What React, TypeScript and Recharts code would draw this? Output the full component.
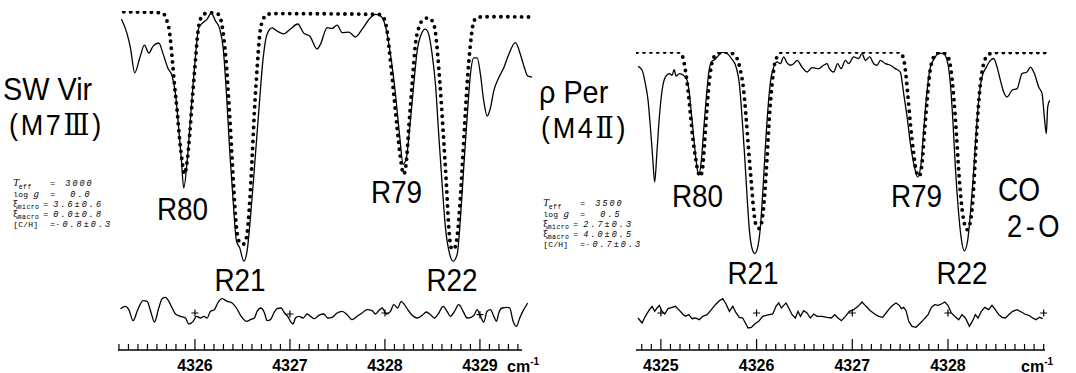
import React from "react";
import { ComposedChart, LineChart, Line, Scatter, XAxis, YAxis } from "recharts";

type Pt = [number, number];

// SW Vir (M7 III): wavenumber (cm-1), relative intensity (continuum = 100)
const swVirObserved: Pt[] = [
  [4325.226, 96.9], [4325.286, 91.2], [4325.321, 85.8], [4325.366, 76.2], [4325.419, 81.9],
  [4325.468, 86.9], [4325.514, 83.8], [4325.56, 86.5], [4325.619, 87.7], [4325.665, 83.5],
  [4325.714, 78.1], [4325.76, 75.0], [4325.795, 68.1], [4325.829, 55.0], [4325.858, 42.3],
  [4325.882, 31.9], [4325.918, 42.3], [4325.953, 58.8], [4325.995, 78.1], [4326.04, 93.5],
  [4326.093, 95.8], [4326.128, 96.9], [4326.171, 99.2], [4326.216, 96.2], [4326.261, 93.1],
  [4326.297, 85.8], [4326.332, 68.1], [4326.366, 46.2], [4326.402, 26.9], [4326.437, 11.5],
  [4326.472, 8.8], [4326.514, 3.8], [4326.549, 7.7], [4326.584, 20.4], [4326.626, 39.6],
  [4326.672, 61.5], [4326.718, 81.9], [4326.76, 91.2], [4326.813, 93.5], [4326.865, 92.3],
  [4326.935, 91.2], [4327.005, 93.1], [4327.082, 95.0], [4327.145, 91.5], [4327.208, 90.4],
  [4327.286, 85.4], [4327.321, 87.2], [4327.392, 93.6], [4327.444, 93.3], [4327.497, 94.6],
  [4327.549, 91.7], [4327.619, 91.9], [4327.689, 90.0], [4327.76, 93.0], [4327.847, 97.4],
  [4327.9, 98.7], [4327.953, 98.1], [4328.005, 94.2], [4328.058, 83.3], [4328.111, 68.0],
  [4328.153, 52.6], [4328.192, 41.0], [4328.226, 43.6], [4328.261, 55.1], [4328.303, 71.8],
  [4328.339, 84.6], [4328.381, 91.0], [4328.426, 93.0], [4328.461, 91.0], [4328.497, 83.3],
  [4328.532, 71.8], [4328.566, 52.6], [4328.602, 33.3], [4328.637, 16.7], [4328.682, 6.4],
  [4328.718, 3.8], [4328.76, 6.4], [4328.795, 20.5], [4328.829, 39.7], [4328.865, 59.0],
  [4328.9, 75.7], [4328.935, 82.0], [4328.971, 82.0], [4329.005, 75.7], [4329.04, 65.4],
  [4329.076, 59.6], [4329.111, 62.8], [4329.145, 69.2], [4329.198, 74.3], [4329.251, 78.2],
  [4329.303, 83.3], [4329.374, 87.8], [4329.426, 83.3], [4329.468, 78.2], [4329.503, 75.0],
  [4329.549, 74.6],
];

const swVirSynthetic: Pt[] = [
  [4325.251, 99.7], [4325.655, 99.3], [4325.7, 96.8], [4325.735, 91.2], [4325.76, 81.9],
  [4325.784, 71.9], [4325.813, 61.5], [4325.84, 50.0], [4325.865, 42.3], [4325.889, 37.3],
  [4325.918, 42.3], [4325.945, 52.7], [4325.971, 65.4], [4326.005, 80.8], [4326.029, 91.2],
  [4326.058, 96.9], [4326.093, 98.8], [4326.163, 99.3], [4326.234, 99.0], [4326.276, 96.2],
  [4326.303, 89.7], [4326.328, 80.8], [4326.356, 65.4], [4326.381, 50.0], [4326.408, 32.0],
  [4326.437, 16.7], [4326.472, 10.9], [4326.507, 10.3], [4326.542, 12.8], [4326.577, 26.9],
  [4326.602, 43.6], [4326.626, 61.5], [4326.655, 78.2], [4326.682, 91.0], [4326.718, 96.8],
  [4326.76, 98.7], [4326.829, 99.0], [4327.935, 98.7], [4327.987, 97.4], [4328.023, 92.3],
  [4328.058, 80.8], [4328.093, 68.0], [4328.128, 55.1], [4328.163, 43.6], [4328.198, 37.2],
  [4328.226, 42.3], [4328.251, 55.1], [4328.286, 71.8], [4328.321, 87.2], [4328.356, 93.6],
  [4328.408, 96.8], [4328.461, 97.4], [4328.514, 94.9], [4328.542, 88.5], [4328.566, 78.2],
  [4328.592, 65.4], [4328.619, 50.0], [4328.647, 33.3], [4328.672, 16.7], [4328.697, 9.0],
  [4328.724, 8.3], [4328.753, 11.5], [4328.787, 24.3], [4328.813, 39.7], [4328.837, 55.1],
  [4328.865, 71.8], [4328.9, 87.2], [4328.928, 94.9], [4328.963, 97.4], [4329.04, 97.8],
  [4329.549, 97.7],
];

const swVirResidual: Pt[] = [
  [4325.216, 1.3], [4325.268, 2.0], [4325.304, 1.0], [4325.349, -2.3], [4325.398, 1.0],
  [4325.454, 3.7], [4325.496, 3.5], [4325.539, 0], [4325.574, -2.7], [4325.619, 1.5],
  [4325.654, 4.3], [4325.689, 4.7], [4325.725, 3.5], [4325.76, 1.5], [4325.795, -0.3],
  [4325.847, -1.0], [4325.9, -1.5], [4325.935, -3.3], [4325.981, -2.5], [4326.016, -1.0],
  [4326.058, -1.5], [4326.093, -1.0], [4326.128, -1.5], [4326.163, 0.5], [4326.205, 1.0],
  [4326.24, 3.0], [4326.286, 4.3], [4326.339, 3.5], [4326.391, 3.0], [4326.437, 1.5],
  [4326.486, -1.0], [4326.542, -2.5], [4326.584, -2.0], [4326.626, -1.5], [4326.654, 0.5],
  [4326.696, 1.5], [4326.732, 0], [4326.76, -2.3], [4326.795, -2.0], [4326.83, 0],
  [4326.865, 1.3], [4326.907, 1.5], [4326.942, 0], [4326.977, -1.0], [4327.005, -2.5],
  [4327.033, -3.3], [4327.058, -1.5], [4327.093, -1.0], [4327.139, -1.5], [4327.181, -0.3],
  [4327.216, -1.0], [4327.258, -1.7], [4327.304, -0.7], [4327.356, -0.3], [4327.398, -1.5],
  [4327.444, -1.3], [4327.496, 0], [4327.549, 0.5], [4327.602, -0.5], [4327.654, -2.0],
  [4327.707, -1.0], [4327.76, 0], [4327.812, 1.0], [4327.865, 0.7], [4327.9, -0.3],
  [4327.935, 0.7], [4327.97, 1.5], [4328.016, -0.3], [4328.058, 0.5], [4328.093, 2.5],
  [4328.135, 1.5], [4328.17, 3.5], [4328.205, 2.5], [4328.24, 1.0], [4328.286, -0.7],
  [4328.339, -1.5], [4328.391, -0.7], [4328.437, 0.3], [4328.479, -0.5], [4328.521, -1.5],
  [4328.567, 0], [4328.612, 2.0], [4328.654, 0.5], [4328.689, -1.0], [4328.732, 0.5],
  [4328.777, 2.5], [4328.823, 0.5], [4328.865, -1.5], [4328.907, -1.3], [4328.942, -0.5],
  [4328.97, 1.0], [4329.005, -1.0], [4329.04, -2.7], [4329.075, 0.5], [4329.111, 1.0],
  [4329.146, -1.0], [4329.174, -2.5], [4329.198, 0], [4329.233, 1.5], [4329.286, 1.7],
  [4329.314, 1.5], [4329.349, -2.5], [4329.384, -4.0], [4329.419, -1.5], [4329.461, 1.0],
  [4329.503, 3.0],
];

const swVirMarks: Pt[] = [[4326, 0], [4327, -0.3], [4328, 0], [4329, -0.5]];
const swVirTicks = [4326, 4327, 4328, 4329];
const swVirParams = ["3000", "0.0", "3.6±0.6", "0.0±0.8", "-0.8±0.3"];

// rho Per (M4 II)
const rhoPerObserved: Pt[] = [
  [4324.762, 94.5], [4324.804, 93.0], [4324.838, 87.8], [4324.866, 81.4], [4324.89, 71.2],
  [4324.914, 59.6], [4324.935, 50.0], [4324.96, 62.2], [4324.984, 75.0], [4325.013, 85.3],
  [4325.047, 90.4], [4325.089, 91.7], [4325.117, 91.0], [4325.138, 93.2], [4325.159, 90.7],
  [4325.193, 91.7], [4325.238, 91.0], [4325.274, 89.1], [4325.298, 84.0], [4325.319, 76.3],
  [4325.343, 67.3], [4325.368, 58.3], [4325.395, 52.6], [4325.423, 58.3], [4325.447, 69.9],
  [4325.472, 81.4], [4325.499, 91.7], [4325.528, 96.2], [4325.562, 97.1], [4325.604, 98.7],
  [4325.646, 100.0], [4325.692, 99.4], [4325.737, 97.5], [4325.786, 94.2], [4325.82, 87.8],
  [4325.848, 75.0], [4325.876, 59.6], [4325.901, 44.2], [4325.925, 31.4], [4325.953, 24.4],
  [4325.98, 22.5], [4326.008, 24.4], [4326.04, 32.7], [4326.068, 48.1], [4326.092, 63.5],
  [4326.12, 78.8], [4326.147, 89.1], [4326.179, 94.2], [4326.214, 96.2], [4326.249, 95.5],
  [4326.283, 98.1], [4326.319, 95.8], [4326.353, 94.9], [4326.388, 95.5], [4326.423, 96.8],
  [4326.475, 94.2], [4326.527, 92.3], [4326.58, 94.0], [4326.649, 93.6], [4326.701, 94.9],
  [4326.737, 95.5], [4326.761, 93.6], [4326.806, 92.3], [4326.847, 95.5], [4326.883, 93.6],
  [4326.928, 96.8], [4326.962, 95.5], [4327.015, 98.1], [4327.067, 97.5], [4327.102, 99.4],
  [4327.137, 96.8], [4327.182, 98.1], [4327.224, 95.5], [4327.259, 94.9], [4327.294, 96.8],
  [4327.346, 95.5], [4327.398, 94.9], [4327.45, 93.6], [4327.502, 92.3], [4327.537, 84.0],
  [4327.573, 75.0], [4327.607, 64.8], [4327.642, 57.1], [4327.683, 51.9], [4327.719, 57.1],
  [4327.746, 69.9], [4327.782, 85.3], [4327.816, 94.2], [4327.858, 97.5], [4327.903, 99.6],
  [4327.955, 99.4], [4327.991, 96.8], [4328.025, 87.8], [4328.053, 72.5], [4328.077, 55.8],
  [4328.106, 40.4], [4328.137, 28.8], [4328.171, 23.5], [4328.206, 27.6], [4328.234, 37.8],
  [4328.262, 50.7], [4328.289, 66.0], [4328.321, 81.4], [4328.356, 90.4], [4328.401, 94.2],
  [4328.443, 96.8], [4328.478, 97.5], [4328.513, 94.2], [4328.548, 89.1], [4328.582, 84.6],
  [4328.618, 82.7], [4328.67, 85.3], [4328.722, 85.9], [4328.774, 91.7], [4328.827, 92.3],
  [4328.861, 94.2], [4328.903, 91.7], [4328.948, 86.5], [4328.983, 84.0], [4329.007, 75.0],
  [4329.028, 68.6], [4329.042, 78.8], [4329.063, 81.4],
];

const rhoPerSynthetic: Pt[] = [
  [4324.751, 100], [4325.186, 100], [4325.228, 98.1], [4325.256, 93.0], [4325.284, 85.3],
  [4325.308, 76.3], [4325.332, 67.3], [4325.361, 59.6], [4325.389, 53.8], [4325.413, 52.2],
  [4325.437, 55.8], [4325.458, 66.0], [4325.483, 78.8], [4325.507, 89.1], [4325.541, 96.8],
  [4325.587, 99.4], [4325.656, 100], [4325.737, 99.6], [4325.796, 97.5], [4325.831, 93.0],
  [4325.865, 85.3], [4325.89, 75.0], [4325.917, 62.2], [4325.946, 49.4], [4325.97, 39.1],
  [4325.995, 33.3], [4326.029, 32.1], [4326.057, 35.3], [4326.085, 45.5], [4326.11, 59.6],
  [4326.134, 75.0], [4326.162, 87.8], [4326.189, 95.5], [4326.225, 98.7], [4326.266, 100],
  [4327.485, 100], [4327.531, 98.1], [4327.555, 93.0], [4327.579, 84.0], [4327.607, 72.5],
  [4327.642, 60.9], [4327.67, 53.8], [4327.698, 52.2], [4327.729, 57.1], [4327.753, 68.6],
  [4327.782, 81.4], [4327.809, 91.7], [4327.844, 97.5], [4327.892, 99.6], [4327.955, 99.6],
  [4328.007, 97.5], [4328.032, 93.0], [4328.06, 82.7], [4328.088, 68.6], [4328.112, 54.5],
  [4328.137, 43.0], [4328.164, 35.3], [4328.2, 31.7], [4328.234, 34.6], [4328.262, 44.2],
  [4328.286, 59.6], [4328.31, 75.0], [4328.339, 87.8], [4328.373, 95.5], [4328.415, 98.7],
  [4328.478, 99.8], [4329.036, 99.8],
];

const rhoPerResidual: Pt[] = [
  [4324.761, -1.5], [4324.803, -3.0], [4324.838, -1.0], [4324.88, 1.0], [4324.908, 2.0],
  [4324.936, 0.5], [4324.96, 1.5], [4324.984, 2.3], [4325.012, 0.5], [4325.04, -0.3],
  [4325.075, 1.3], [4325.117, 1.7], [4325.152, 2.0], [4325.186, 1.0], [4325.228, -0.3],
  [4325.256, -1.0], [4325.291, -0.5], [4325.326, -1.7], [4325.361, -1.5], [4325.402, -2.0],
  [4325.437, -1.0], [4325.482, -0.5], [4325.528, 1.0], [4325.569, 2.5], [4325.611, 3.7],
  [4325.646, 4.3], [4325.681, 2.7], [4325.716, 0.5], [4325.751, 2.0], [4325.786, 0],
  [4325.82, -1.3], [4325.855, -1.5], [4325.883, -3.0], [4325.911, -4.5], [4325.946, -4.3],
  [4325.98, -3.3], [4326.022, -2.5], [4326.064, -1.0], [4326.099, -0.7], [4326.134, -0.5],
  [4326.169, -0.3], [4326.203, 2.0], [4326.231, 3.0], [4326.259, 1.5], [4326.284, 2.3],
  [4326.308, 3.0], [4326.336, 1.5], [4326.371, -0.5], [4326.405, -1.5], [4326.433, 0.5],
  [4326.458, -1.0], [4326.492, 0.7], [4326.527, 0], [4326.562, -1.5], [4326.597, -0.3],
  [4326.632, -1.0], [4326.684, -1.0], [4326.736, -1.3], [4326.782, -1.5], [4326.816, -0.5],
  [4326.851, -1.5], [4326.886, -2.3], [4326.928, -1.0], [4326.97, 0.5], [4327.015, 1.0],
  [4327.06, 2.0], [4327.102, 3.3], [4327.144, 2.0], [4327.189, 0.7], [4327.234, -0.3],
  [4327.276, -1.0], [4327.318, -1.3], [4327.353, 0], [4327.388, 1.3], [4327.422, 2.3],
  [4327.457, 3.0], [4327.492, 2.3], [4327.513, 1.3], [4327.537, 1.7], [4327.562, 0.7],
  [4327.59, -2.5], [4327.624, -4.0], [4327.666, -4.3], [4327.701, -3.3], [4327.746, -2.0],
  [4327.792, -0.5], [4327.827, 1.7], [4327.861, 2.5], [4327.896, 2.3], [4327.931, 2.7],
  [4327.966, 3.3], [4328.0, 2.3], [4328.035, 0], [4328.07, -1.0], [4328.112, -2.0],
  [4328.147, -0.5], [4328.182, -1.5], [4328.224, -4.0], [4328.258, -2.3], [4328.286, -0.5],
  [4328.314, -1.5], [4328.349, 0.5], [4328.384, 1.7], [4328.425, 1.0], [4328.46, 2.3],
  [4328.495, 1.0], [4328.53, -0.5], [4328.565, -1.3], [4328.6, -1.5], [4328.635, -0.5],
  [4328.676, 0.5], [4328.722, 1.0], [4328.767, 0.3], [4328.802, -0.3], [4328.844, -0.7],
  [4328.885, -1.5], [4328.92, -2.0], [4328.955, -1.3], [4328.99, -1.7],
];

const rhoPerMarks: Pt[] = [[4325, 0], [4326, 0], [4327, 0], [4328, 0], [4329, 0]];
const rhoPerTicks = [4325, 4326, 4327, 4328];
const rhoPerParams = ["3500", "0.5", "2.7±0.3", "4.0±0.5", "-0.7±0.3"];

const rows = (pts: Pt[]) => pts.map(([wn, v]) => ({ wn, v }));

const SANS = "'Liberation Sans', Arial, sans-serif";
const MONO = "'Liberation Mono', 'DejaVu Sans Mono', monospace";
const SERIF = "'DejaVu Serif', 'Liberation Serif', serif";
const PAD = 6;
const SPEC_H = 260;
const RES_TOP = 293.3;
const RES_H = 40;
const AXIS_Y = 350;

function PlusMark(props: any) {
  const { cx, cy } = props;
  return (
    <path
      d={`M${cx - 3.5},${cy}H${cx + 3.5}M${cx},${cy - 3.5}V${cy + 3.5}`}
      stroke="#000"
      strokeWidth={1.2}
      fill="none"
    />
  );
}

function AxisTick({ x, y, payload, majors }: any) {
  const v = payload.value;
  const major = majors.some((m: number) => Math.abs(m - v) < 1e-6);
  return (
    <g>
      <line x1={x} x2={x} y1={y} y2={y - (major ? 11 : 6)} stroke="#000" strokeWidth={1.2} />
      {major && (
        <text x={x} y={y + 21.5} textAnchor="middle" fontFamily={SANS} fontSize={16} fontWeight="bold" fill="#000">
          {Math.round(v)}
        </text>
      )}
    </g>
  );
}

interface PanelProps {
  observed: Pt[];
  synthetic: Pt[];
  residual: Pt[];
  marks: Pt[];
  ticks: number[];
  specDomain: [number, number];
  axisDomain: [number, number];
  refWn: number;
  refX: number;
  scale: number;
  continuumY: number;
  jagged?: boolean;
}

function Panel({
  observed,
  synthetic,
  residual,
  marks,
  ticks,
  specDomain,
  axisDomain,
  refWn,
  refX,
  scale,
  continuumY,
  jagged,
}: PanelProps) {
  const px = (wn: number) => refX + (wn - refWn) * scale;
  const specLeft = px(specDomain[0]);
  const specWidth = (specDomain[1] - specDomain[0]) * scale;
  const axisWidth = (axisDomain[1] - axisDomain[0]) * scale;
  const axisTicks: number[] = [];
  for (let t = Math.ceil(axisDomain[0] * 10 - 1e-6); t <= Math.floor(axisDomain[1] * 10 + 1e-6); t++) {
    axisTicks.push(t / 10);
  }

  return (
    <>
      <div style={{ position: "absolute", left: specLeft, top: continuumY - PAD }}>
        <LineChart width={specWidth} height={SPEC_H + 2 * PAD} margin={{ top: PAD, right: 0, bottom: PAD, left: 0 }}>
          <XAxis type="number" dataKey="wn" domain={specDomain} allowDataOverflow hide />
          <YAxis type="number" domain={[0, 100]} allowDataOverflow hide />
          <Line
            data={rows(synthetic)}
            dataKey="v"
            type="monotone"
            stroke="#000"
            strokeWidth={3.9}
            strokeDasharray="0 6.9"
            strokeLinecap="round"
            dot={false}
            isAnimationActive={false}
          />
          <Line
            data={rows(observed)}
            dataKey="v"
            type="monotone"
            stroke="#000"
            strokeWidth={1.3}
            dot={false}
            isAnimationActive={false}
          />
        </LineChart>
      </div>

      <div style={{ position: "absolute", left: specLeft, top: RES_TOP - 4 }}>
        <ComposedChart width={specWidth} height={RES_H + 8} margin={{ top: 4, right: 0, bottom: 4, left: 0 }}>
          <XAxis type="number" dataKey="wn" domain={specDomain} allowDataOverflow hide />
          <YAxis type="number" dataKey="v" domain={[-6, 6]} allowDataOverflow hide />
          <Line
            data={rows(residual)}
            dataKey="v"
            type={jagged ? "linear" : "monotone"}
            stroke="#000"
            strokeWidth={1.3}
            dot={false}
            isAnimationActive={false}
          />
          <Scatter data={rows(marks)} dataKey="v" shape={PlusMark} isAnimationActive={false} />
        </ComposedChart>
      </div>

      <div style={{ position: "absolute", left: px(axisDomain[0]), top: AXIS_Y - 15 }}>
        <LineChart width={axisWidth} height={40} margin={{ top: 0, right: 0, bottom: 0, left: 0 }}>
          <XAxis
            type="number"
            dataKey="wn"
            domain={axisDomain}
            allowDataOverflow
            ticks={axisTicks}
            interval={0}
            height={25}
            tickSize={0}
            tickMargin={0}
            tickLine={false}
            axisLine={{ stroke: "#000", strokeWidth: 1.3 }}
            tick={(t: any) => <AxisTick {...t} majors={ticks} />}
          />
          <YAxis type="number" domain={[0, 1]} hide />
          <Line
            data={ticks.map((wn) => ({ wn, v: 0.5 }))}
            dataKey="v"
            stroke="none"
            dot={false}
            isAnimationActive={false}
          />
        </LineChart>
      </div>
    </>
  );
}

// model parameters, typewriter style
function ParamBlock({ x, y, values }: { x: number; y: number; values: string[] }) {
  const base = { fontFamily: MONO, fontSize: 8, letterSpacing: 0.2, fill: "#000" };
  const val = { fontFamily: MONO, fontSize: 8.5, letterSpacing: 2, fontStyle: "italic" as const, fill: "#000" };
  const sub = { fontFamily: MONO, fontSize: 6.5, letterSpacing: 0.4, fill: "#000" };
  const rowY = [0, 10.5, 20.5, 30.5, 41].map((d) => y + d);
  return (
    <g>
      <text x={x} y={rowY[0]} fontFamily={SERIF} fontStyle="italic" fontSize={9} fill="#000">T</text>
      <text x={x + 5.5} y={rowY[0] + 2.5} {...sub}>eff</text>
      <text x={x + 37} y={rowY[0]} {...base}>=</text>
      <text x={x + 52} y={rowY[0]} {...val}>{values[0]}</text>

      <text x={x} y={rowY[1]} {...base}>log</text>
      <text x={x + 20} y={rowY[1]} fontFamily={SERIF} fontStyle="italic" fontSize={9} fill="#000">g</text>
      <text x={x + 37} y={rowY[1]} {...base}>=</text>
      <text x={x + 57} y={rowY[1]} {...val}>{values[1]}</text>

      <text x={x} y={rowY[2]} fontFamily={SERIF} fontSize={8.5} fill="#000">ξ</text>
      <text x={x + 4.5} y={rowY[2] + 2.5} {...sub}>micro</text>
      <text x={x + 30} y={rowY[2]} {...base}>=</text>
      <text x={x + 40} y={rowY[2]} {...val}>{values[2]}</text>

      <text x={x} y={rowY[3]} fontFamily={SERIF} fontSize={8.5} fill="#000">ξ</text>
      <text x={x + 4.5} y={rowY[3] + 2.5} {...sub}>macro</text>
      <text x={x + 30} y={rowY[3]} {...base}>=</text>
      <text x={x + 40} y={rowY[3]} {...val}>{values[3]}</text>

      <text x={x} y={rowY[4]} {...base}>[C/H]</text>
      <text x={x + 37} y={rowY[4]} {...base}>=</text>
      <text x={x + 42} y={rowY[4]} {...val}>{values[4]}</text>
    </g>
  );
}

function Label({ x, y, text, size = 31, sx = 0.9, anchor = "middle", spacing = 0 }: any) {
  return (
    <text
      transform={`translate(${x},${y}) scale(${sx},1)`}
      textAnchor={anchor}
      fontFamily={SANS}
      fontSize={size}
      letterSpacing={spacing}
      fill="#000"
    >
      {text}
    </text>
  );
}

export default function App() {
  return (
    <div
      style={{
        position: "absolute",
        left: 0,
        top: 0,
        width: 1076,
        height: 373,
        background: "#fff",
        overflow: "hidden",
      }}
    >
      <Panel
        observed={swVirObserved}
        synthetic={swVirSynthetic}
        residual={swVirResidual}
        marks={swVirMarks}
        ticks={swVirTicks}
        specDomain={[4325.19, 4329.56]}
        axisDomain={[4325.19, 4329.45]}
        refWn={4326}
        refX={194.5}
        scale={95}
        continuumY={10.7}
      />
      <Panel
        observed={rhoPerObserved}
        synthetic={rhoPerSynthetic}
        residual={rhoPerResidual}
        marks={rhoPerMarks}
        ticks={rhoPerTicks}
        specDomain={[4324.74, 4329.07]}
        axisDomain={[4324.74, 4329.02]}
        refWn={4325}
        refX={660.5}
        scale={95.7}
        continuumY={51.7}
        jagged
      />

      <svg width={1076} height={373} style={{ position: "absolute", left: 0, top: 0, pointerEvents: "none" }}>
        <Label x={3} y={100} text="SW Vir" size={31} sx={0.93} anchor="start" />
        <text transform="translate(9,134.5) scale(0.9,1)" fontFamily={SANS} fontSize={30} letterSpacing={3} fill="#000">
          (M7<tspan fontFamily={SERIF}>Ⅲ</tspan>)
        </text>
        <Label x={539} y={103} text="ρ Per" size={31} sx={0.93} anchor="start" />
        <text transform="translate(541,137.5) scale(0.9,1)" fontFamily={SANS} fontSize={30} letterSpacing={3} fill="#000">
          (M4<tspan fontFamily={SERIF}>Ⅱ</tspan>)
        </text>

        <ParamBlock x={13.3} y={186} values={swVirParams} />
        <ParamBlock x={543.3} y={206} values={rhoPerParams} />

        <Label x={182.5} y={220} text="R80" />
        <Label x={240} y={291} text="R21" />
        <Label x={396.5} y={203} text="R79" />
        <Label x={452} y={291} text="R22" />

        <Label x={697.5} y={207} text="R80" />
        <Label x={753} y={284} text="R21" />
        <Label x={916.5} y={207} text="R79" />
        <Label x={962} y={284} text="R22" />

        <Label x={998} y={201} text="CO" size={33} sx={0.85} anchor="start" />
        <Label x={1007} y={237} text="2-O" size={31} sx={0.88} anchor="start" spacing={4} />

        <text x={507} y={371.5} fontFamily={SANS} fontSize={16} fontWeight="bold" fill="#000">
          cm<tspan dy={-7} fontSize={10}>-1</tspan>
        </text>
        <text x={1021} y={371.5} fontFamily={SANS} fontSize={16} fontWeight="bold" fill="#000">
          cm<tspan dy={-7} fontSize={10}>-1</tspan>
        </text>
      </svg>
    </div>
  );
}
